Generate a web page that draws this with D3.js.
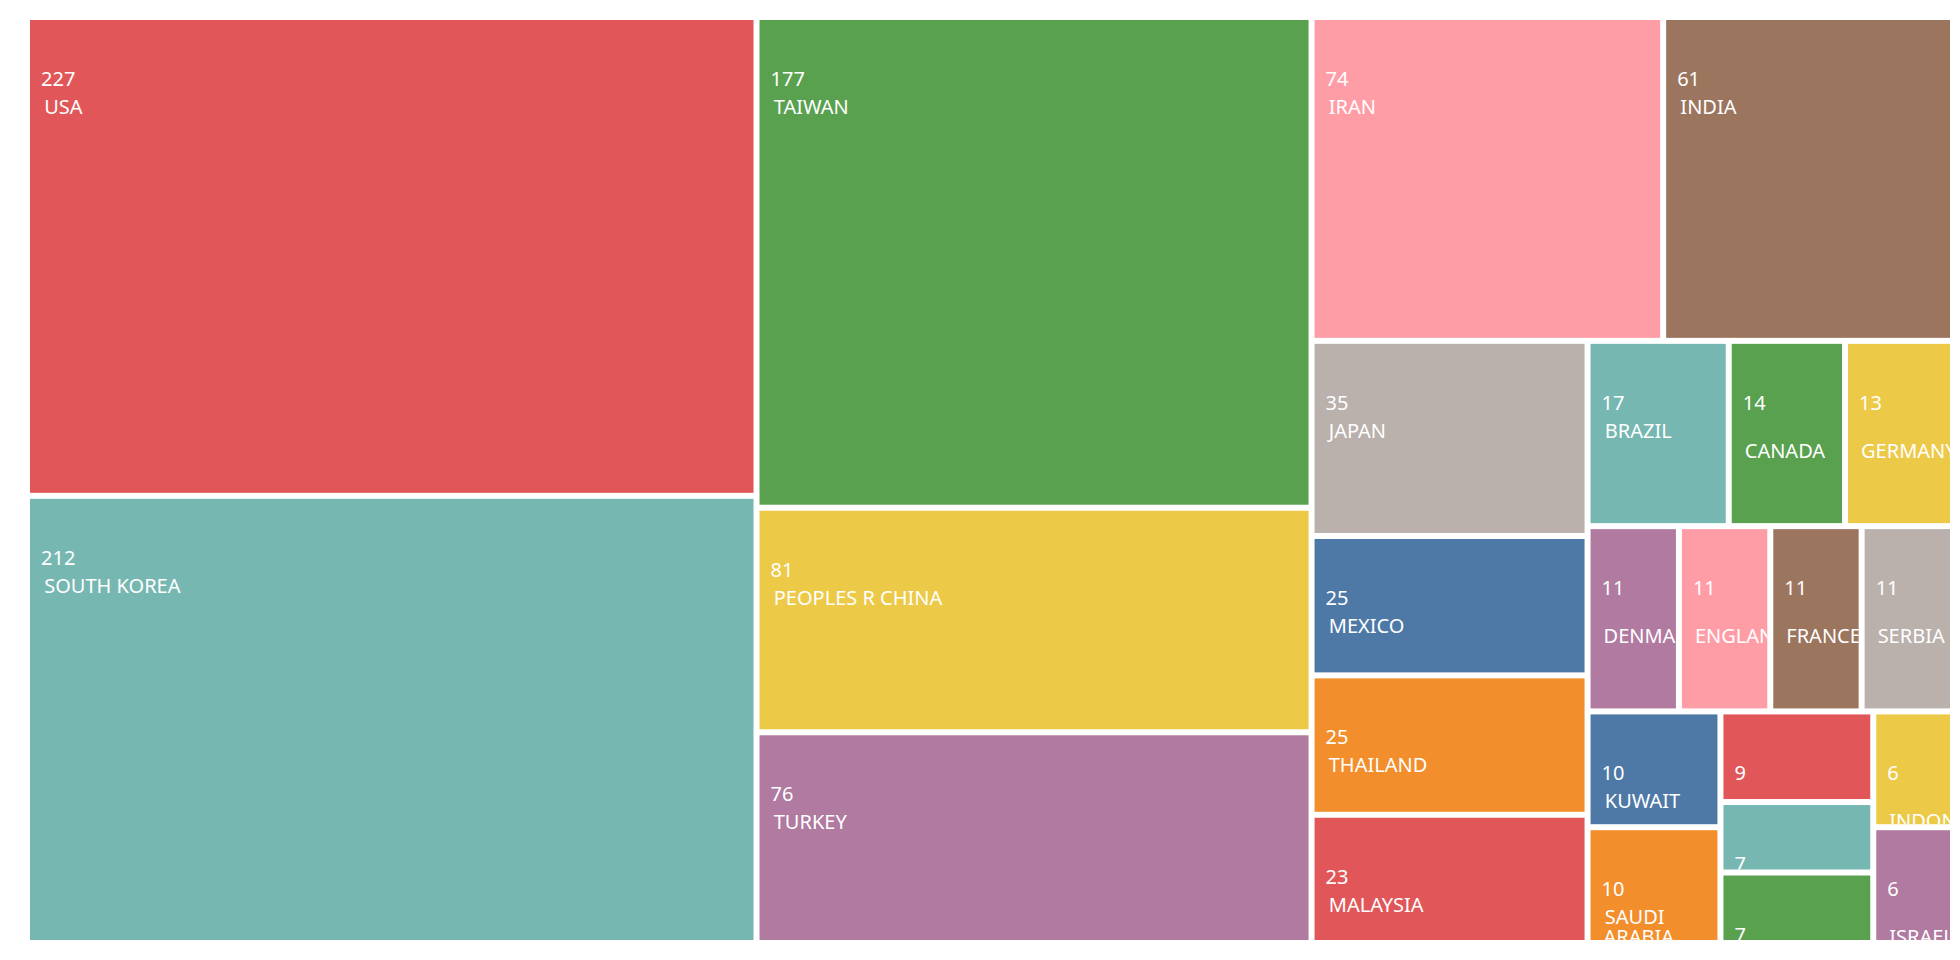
<!DOCTYPE html>
<html><head><meta charset="utf-8">
<script src="https://cdn.jsdelivr.net/npm/d3@7"></script>
<style>html,body{margin:0;padding:0;background:#fff;}svg{display:block;}</style>
</head><body>
<svg id="chart" width="1960" height="960"></svg>
<script>
const countries = ["USA","SOUTH KOREA","TAIWAN","PEOPLES R CHINA","TURKEY","IRAN","INDIA","JAPAN","MEXICO","THAILAND","MALAYSIA","BRAZIL","CANADA","GERMANY","DENMARK","ENGLAND","FRANCE","SERBIA","KUWAIT","SAUDI ARABIA","NETHERLANDS","AUSTRALIA","SPAIN","INDONESIA","ISRAEL"];
const counts = [227,212,177,81,76,74,61,35,25,25,23,17,14,13,11,11,11,11,10,10,9,7,7,6,6];
const palette = ["#e15759","#76b7b2","#59a14f","#edc948","#b07aa1","#ff9da7","#9c755f","#bab0ac","#4e79a7","#f28e2c"];

const W = 1960, H = 960;
const margin = {left: 30, top: 20, right: 10, bottom: 20};
const FONT = "20px 'Noto Sans', 'DejaVu Sans', sans-serif";

const svg = d3.select("#chart");
const g = svg.append("g").attr("transform", `translate(${margin.left},${margin.top})`);

const rootData = {name: "root", children: countries.map((c, i) => ({name: c, value: counts[i], idx: i}))};
const root = d3.hierarchy(rootData).sum(d => d.value || 0).sort((a, b) => b.value - a.value);
d3.treemap().tile(d3.treemapSquarify).size([W - margin.left - margin.right, H - margin.top - margin.bottom]).paddingInner(6)(root);

const color = d3.scaleOrdinal().domain(d3.range(palette.length)).range(palette);

const canvas = document.createElement("canvas");
const ctx = canvas.getContext("2d");
ctx.font = FONT;
const measure = s => ctx.measureText(s).width;

const leaves = g.selectAll("g.cell").data(root.leaves()).join("g").attr("class", "cell")
  .attr("transform", d => `translate(${d.x0},${d.y0})`);

leaves.append("clipPath").attr("id", (d, i) => "clip" + i)
  .append("rect").attr("width", d => d.x1 - d.x0).attr("height", d => d.y1 - d.y0);

leaves.append("rect")
  .attr("width", d => d.x1 - d.x0).attr("height", d => d.y1 - d.y0)
  .attr("fill", d => color(d.data.idx % palette.length));

const txt = leaves.append("g").attr("clip-path", (d, i) => `url(#clip${i})`)
  .style("font", FONT).attr("fill", "#fff");

txt.append("text").attr("x", 11).attr("y", 66).text(d => d.value);

txt.each(function(d) {
  const w = d.x1 - d.x0;
  const avail = w - 32;
  const words = d.data.name.split(" ");
  const lines = [];
  let cur = " ";
  words.forEach(word => {
    const cand = cur === " " ? " " + word : cur + " " + word;
    if (measure(cand) <= avail) cur = cand;
    else { lines.push(cur); cur = word; }
  });
  lines.push(cur);
  const t = d3.select(this).append("text").attr("x", 10).attr("y", 94).attr("xml:space", "preserve");
  lines.forEach((l, k) => {
    t.append("tspan").attr("x", l.startsWith(" ") ? 9 : 13).attr("y", 94 + 20 * k).text(l);
  });
});
</script>
</body></html>
